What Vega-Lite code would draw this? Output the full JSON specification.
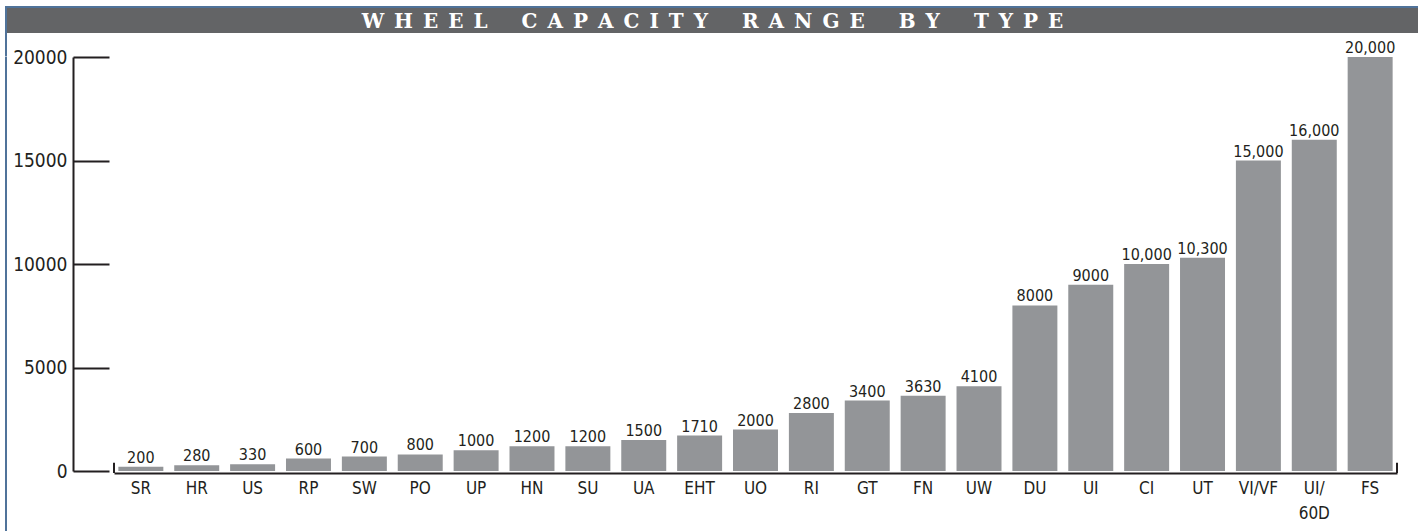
{
  "$schema": "https://vega.github.io/schema/vega-lite/v6.json",
  "background": "white",
  "padding": {"left": 5, "top": 6, "right": 0, "bottom": 0},
  "config": {"view": {"stroke": null}},
  "spacing": 0,
  "vconcat": [
    {
      "width": 1413, "height": 2,
      "data": {"values": [{}]},
      "mark": {"type": "rect", "color": "#50739a"},
      "encoding": {}
    },
    {
      "spacing": -30,
      "vconcat": [
        {
          "spacing": 0,
          "hconcat": [
            {
              "width": 2, "height": 48.5,
              "data": {"values": [{}]},
              "mark": {"type": "rect", "color": "#50739a"},
              "encoding": {}
            },
            {
              "width": 1411, "height": 25,
              "data": {"values": [{"title": "W\u2002H\u2002E\u2002E\u2002L\u2002\u2002\u2002\u2009C\u2002A\u2002P\u2002A\u2002C\u2002I\u2002T\u2002Y\u2002\u2002\u2002\u2009R\u2002A\u2002N\u2002G\u2002E\u2002\u2002\u2002\u2009B\u2002Y\u2002\u2002\u2002\u2009T\u2002Y\u2002P\u2002E"}]},
              "layer": [
                {"mark": {"type": "rect", "color": "#636466"}, "encoding": {}},
                {
                  "mark": {"type": "text", "font": "DejaVu Serif", "fontWeight": "bold", "fontSize": 20, "color": "white", "align": "center", "baseline": "middle", "dy": 1},
                  "encoding": {"text": {"field": "title"}}
                }
              ]
            }
          ]
        },
        {
          "spacing": 0,
          "hconcat": [
            {
              "width": 2, "height": 474,
              "data": {"values": [{}]},
              "mark": {"type": "rect", "color": "#50739a"},
              "encoding": {}
            },
            {
              "width": 1283, "height": 414,
              "layer": [
                {
                  "data": {"values": [
                    {"type": "SR", "capacity": 200, "label": "200"},
                    {"type": "HR", "capacity": 280, "label": "280"},
                    {"type": "US", "capacity": 330, "label": "330"},
                    {"type": "RP", "capacity": 600, "label": "600"},
                    {"type": "SW", "capacity": 700, "label": "700"},
                    {"type": "PO", "capacity": 800, "label": "800"},
                    {"type": "UP", "capacity": 1000, "label": "1000"},
                    {"type": "HN", "capacity": 1200, "label": "1200"},
                    {"type": "SU", "capacity": 1200, "label": "1200"},
                    {"type": "UA", "capacity": 1500, "label": "1500"},
                    {"type": "EHT", "capacity": 1710, "label": "1710"},
                    {"type": "UO", "capacity": 2000, "label": "2000"},
                    {"type": "RI", "capacity": 2800, "label": "2800"},
                    {"type": "GT", "capacity": 3400, "label": "3400"},
                    {"type": "FN", "capacity": 3630, "label": "3630"},
                    {"type": "UW", "capacity": 4100, "label": "4100"},
                    {"type": "DU", "capacity": 8000, "label": "8000"},
                    {"type": "UI", "capacity": 9000, "label": "9000"},
                    {"type": "CI", "capacity": 10000, "label": "10,000"},
                    {"type": "UT", "capacity": 10300, "label": "10,300"},
                    {"type": "VI/VF", "capacity": 15000, "label": "15,000"},
                    {"type": "UI/ 60D", "capacity": 16000, "label": "16,000"},
                    {"type": "FS", "capacity": 20000, "label": "20,000"}
                  ]},
                  "encoding": {
                    "x": {
                      "field": "type", "type": "nominal", "sort": null,
                      "scale": {"paddingInner": 0.195, "paddingOuter": 0.078},
                      "axis": {
                        "title": null, "labelAngle": 0, "ticks": false,
                        "domainWidth": 2, "domainColor": "#231f20", "offset": 2,
                        "labelFont": "DejaVu Sans Condensed, Liberation Sans Narrow, sans-serif",
                        "labelFontSize": 17, "labelColor": "#231f20", "labelPadding": 7,
                        "labelBaseline": "top", "labelLineHeight": 25,
                        "labelExpr": "split(datum.label, ' ')"
                      }
                    },
                    "y": {
                      "field": "capacity", "type": "quantitative",
                      "scale": {"domain": [0, 20000], "nice": false},
                      "axis": {
                        "title": null, "values": [0, 5000, 10000, 15000, 20000], "format": "d",
                        "offset": 41, "tickSize": -36, "tickWidth": 2, "tickColor": "#231f20",
                        "domainWidth": 2, "domainColor": "#231f20", "grid": false,
                        "labelFont": "DejaVu Sans Condensed, Liberation Sans Narrow, sans-serif",
                        "labelFontSize": 19, "labelColor": "#231f20", "labelPadding": 42,
                        "labelFlush": false, "minExtent": 66
                      }
                    }
                  },
                  "layer": [
                    {"mark": {"type": "bar", "color": "#939598"}},
                    {
                      "mark": {"type": "text", "font": "DejaVu Sans Condensed, Liberation Sans Narrow, sans-serif", "fontSize": 16, "color": "#231f20", "baseline": "alphabetic", "dy": -4},
                      "encoding": {"text": {"field": "label"}}
                    }
                  ]
                },
                {
                  "data": {"values": [{"edge": 0}, {"edge": 1}]},
                  "mark": {"type": "rule", "strokeWidth": 2, "color": "#231f20"},
                  "encoding": {
                    "x": {"field": "edge", "type": "quantitative", "scale": {"domain": [0, 1], "nice": false, "zero": false}, "axis": null},
                    "y": {"datum": -100, "type": "quantitative"},
                    "y2": {"datum": 400}
                  }
                }
              ],
              "resolve": {"scale": {"x": "independent"}, "axis": {"x": "independent"}}
            }
          ]
        }
      ]
    }
  ]
}
